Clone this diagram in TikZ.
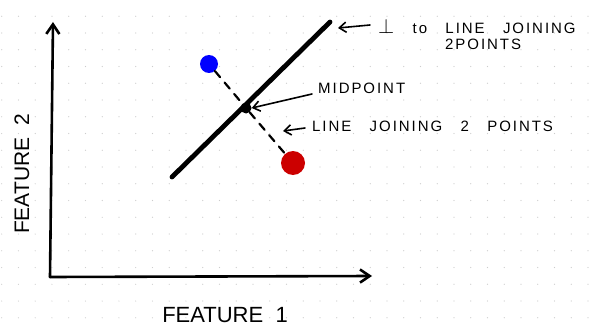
\documentclass[tikz,border=0pt]{standalone}
\usepackage{fontspec}
\setmainfont{Liberation Sans}
\newfontfamily\notefont[LetterSpace=13,WordSpace=3]{Liberation Sans}
\newfontfamily\titlefont[WordSpace=2]{Liberation Sans}
\usepackage{tikz}
\usetikzlibrary{arrows.meta,calc,positioning}
\tikzset{
  every picture/.append style={line cap=round,line join=round},
  fs grid/.style={fill=black!20},
  fs axis/.style={line width=2.6pt,-{Straight Barb[length=3.4mm,width=4.6mm]}},
  fs divider/.style={line width=4.8pt},
  fs join/.style={line width=2.2pt,dash pattern=on 8pt off 7pt},
  fs pointer/.style={line width=1.6pt,-{Straight Barb[length=2.4mm,width=3.6mm]}},
  fs note/.style={font=\notefont\fontsize{15}{17}\selectfont,anchor=west,inner sep=0pt},
  fs title/.style={font=\titlefont\fontsize{22}{26}\selectfont,inner sep=0pt}
}
\begin{document}
\begin{tikzpicture}[x=1pt,y=-1pt]
\useasboundingbox (0,0) rectangle (592,329);
\fill[white] (0,0) rectangle (592,329);
% dotted paper
\foreach \i in {0,...,35}{
  \foreach \j in {0,...,19}{
    \fill[fs grid] (1.7+16.75*\i,16.3+16.75*\j) circle (0.6pt);
  }
}
% axes
\coordinate (origin) at (50,277);
\coordinate (ytip) at (53,22);
\coordinate (xtip) at (372,276);
\draw[fs axis] (origin) -- (ytip);
\draw[fs axis] (origin) -- (xtip);
\node[fs title] (xlabel) at (225,315) {FEATURE 1};
\node[fs title,font=\titlefont\fontsize{21}{24}\selectfont,rotate=90] (ylabel) at (22,174) {FEATURE 2};
% points and lines
\node[circle,fill=blue,inner sep=0pt,minimum size=18pt] (blue) at (209,64) {};
\node[circle,fill=red!80!black,inner sep=0pt,minimum size=24pt] (red) at (293,163) {};
\coordinate (lo) at (172,177);
\coordinate (hi) at (330,22);
\draw[fs divider] (lo) -- (hi);
\node[circle,fill=black,inner sep=0pt,minimum size=11pt] (mid) at (246,108) {};
\draw[fs join] (blue) -- (mid) -- (red);
% labels
\node[fs note] (perp) at (378,26) {{\fontsize{21}{21}\selectfont$\perp$} to LINE JOINING};
\node[fs note] (perp2) at (445,44) {2POINTS};
\node[fs note] (midlabel) at (318,88) {MIDPOINT};
\node[fs note] (joinlabel) at (312,126) {LINE JOINING 2 POINTS};
\draw[fs pointer] (370,25) -- (338,28);
\draw[fs pointer] (312,94) -- (mid.east);
\draw[fs pointer] (305,128) -- (283,131);
\end{tikzpicture}
\end{document}
